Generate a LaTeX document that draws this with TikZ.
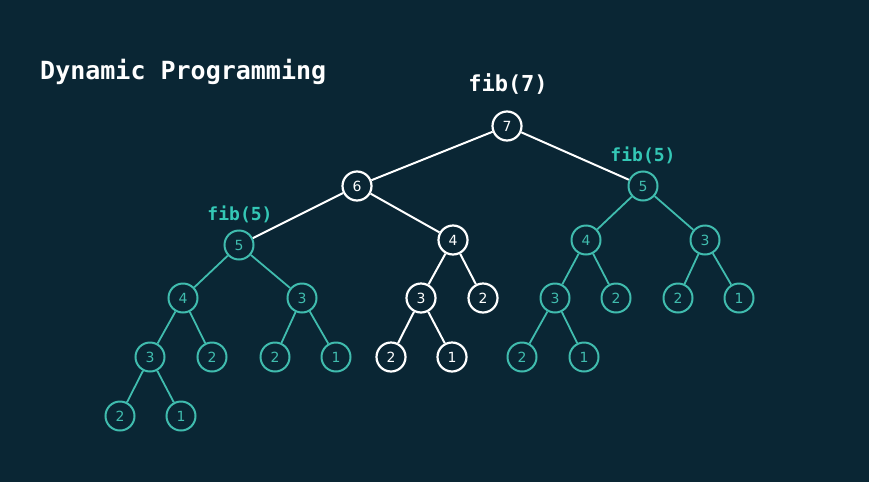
\documentclass[tikz,border=0pt]{standalone}
\usepackage{fontspec}
\setmainfont{DejaVu Sans}
\newfontfamily\codefont{DejaVu Sans Mono}
\definecolor{bgc}{RGB}{10,38,52}
\definecolor{tealc}{RGB}{64,188,174}
\definecolor{tealt}{RGB}{52,200,182}
\begin{document}
\begin{tikzpicture}[x=1pt,y=-1pt,
  wn/.style={circle,draw=white,fill=bgc,line width=2.2pt,minimum size=29pt,inner sep=0pt,text=white,font=\fontsize{14}{14}\selectfont},
  tn/.style={circle,draw=tealc,fill=bgc,line width=2pt,minimum size=29pt,inner sep=0pt,text=tealc,font=\fontsize{14}{14}\selectfont},
  we/.style={draw=white,line width=2pt},
  te/.style={draw=tealc,line width=1.8pt},
  lbl/.style={font=\codefont\bfseries\fontsize{18}{18}\selectfont,text=tealt,inner sep=0pt}]
\fill[bgc] (0,0) rectangle (869,482);
\useasboundingbox (0,0) rectangle (869,482);
\node[font=\codefont\bfseries\fontsize{25}{25}\selectfont,text=white,anchor=west,inner sep=0pt] (title) at (40,72) {Dynamic Programming};
\node[font=\codefont\bfseries\fontsize{22}{22}\selectfont,text=white,inner sep=0pt] (lab7) at (508,84) {fib(7)};
\node[lbl] (lab5r) at (643,155) {fib(5)};
\node[lbl] (lab5l) at (240,214) {fib(5)};
\node[wn] (n7) at (507,126) {7};
\node[wn] (n6) at (357,186) {6};
\node[tn] (n5r) at (643,186) {5};
\node[tn] (n5l) at (239,245) {5};
\node[wn] (n4w) at (453,240) {4};
\node[tn] (n4r) at (586,240) {4};
\node[tn] (n3r) at (705,240) {3};
\node[tn] (n4l) at (183,298) {4};
\node[tn] (n3l) at (302,298) {3};
\node[wn] (n3w) at (421,298) {3};
\node[wn] (n2w) at (483,298) {2};
\node[tn] (n3rr) at (555,298) {3};
\node[tn] (n2ra) at (616,298) {2};
\node[tn] (n2rb) at (678,298) {2};
\node[tn] (n1ra) at (739,298) {1};
\node[tn] (n3ll) at (150,357) {3};
\node[tn] (n2la) at (212,357) {2};
\node[tn] (n2lb) at (275,357) {2};
\node[tn] (n1la) at (336,357) {1};
\node[wn] (n2wb) at (391,357) {2};
\node[wn] (n1wb) at (452,357) {1};
\node[tn] (n2rc) at (522,357) {2};
\node[tn] (n1rc) at (584,357) {1};
\node[tn] (n2ld) at (120,416) {2};
\node[tn] (n1ld) at (181,416) {1};
% white edges
\draw[we] (n7) -- (n6);
\draw[we] (n7) -- (n5r);
\draw[we] (n6) -- (n5l);
\draw[we] (n6) -- (n4w);
\draw[we] (n4w) -- (n3w);
\draw[we] (n4w) -- (n2w);
\draw[we] (n3w) -- (n2wb);
\draw[we] (n3w) -- (n1wb);
% teal edges
\draw[te] (n5r) -- (n4r);
\draw[te] (n5r) -- (n3r);
\draw[te] (n4r) -- (n3rr);
\draw[te] (n4r) -- (n2ra);
\draw[te] (n3r) -- (n2rb);
\draw[te] (n3r) -- (n1ra);
\draw[te] (n3rr) -- (n2rc);
\draw[te] (n3rr) -- (n1rc);
\draw[te] (n5l) -- (n4l);
\draw[te] (n5l) -- (n3l);
\draw[te] (n4l) -- (n3ll);
\draw[te] (n4l) -- (n2la);
\draw[te] (n3l) -- (n2lb);
\draw[te] (n3l) -- (n1la);
\draw[te] (n3ll) -- (n2ld);
\draw[te] (n3ll) -- (n1ld);
\end{tikzpicture}
\end{document}
